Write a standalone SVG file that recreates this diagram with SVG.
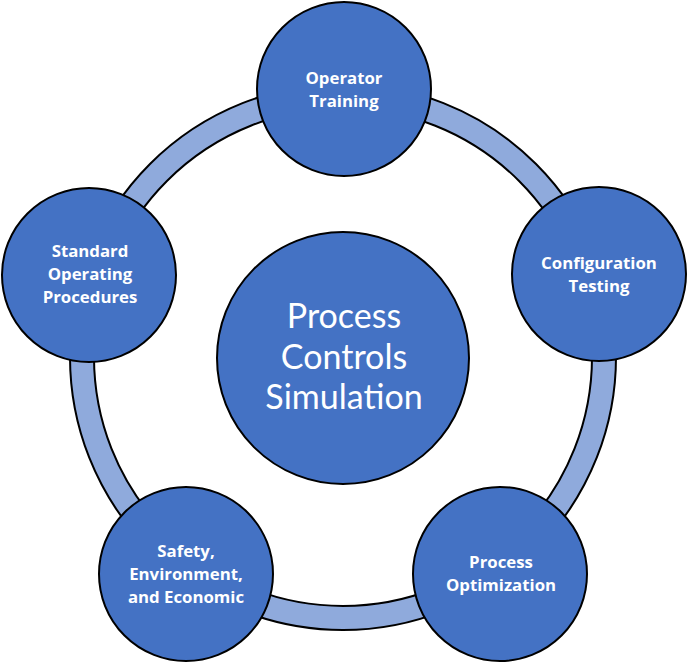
<svg xmlns="http://www.w3.org/2000/svg" width="688" height="664" viewBox="0 0 688 664">
<style>
.node{fill:#4472C4;stroke:#000;stroke-width:2}
.lbl{font-family:"Open Sans","Liberation Sans",sans-serif;font-weight:bold;font-size:16.8px;fill:#fff;text-anchor:middle}
.big{font-family:Lato,"Open Sans",sans-serif;font-size:34px;fill:#fff;text-anchor:middle}
</style>
<rect width="688" height="664" fill="#fff"/>
<g id="connectors">
<circle cx="343" cy="357" r="261" fill="none" stroke="#000" stroke-width="26"/>
<circle cx="343" cy="357" r="261" fill="none" stroke="#8FAADC" stroke-width="22"/>
</g>
<g id="center">
<circle class="node" cx="343" cy="358" r="126"/>
<text class="big"><tspan x="344" y="328">Process</tspan><tspan x="344" y="369">Controls</tspan><tspan x="344" y="409">Simulation</tspan></text>
</g>
<g id="operator-training">
<circle class="node" cx="344" cy="89" r="87"/>
<text class="lbl" x="344" y="84">Operator</text>
<text class="lbl" x="344" y="107">Training</text>
</g>
<g id="configuration-testing">
<circle class="node" cx="599" cy="274" r="87"/>
<text class="lbl" x="599" y="269">Configuration</text>
<text class="lbl" x="599" y="292">Testing</text>
</g>
<g id="process-optimization">
<circle class="node" cx="500" cy="574" r="87"/>
<text class="lbl" x="501" y="568">Process</text>
<text class="lbl" x="501" y="591">Optimization</text>
</g>
<g id="safety">
<circle class="node" cx="186" cy="574" r="87"/>
<text class="lbl" x="186" y="557">Safety,</text>
<text class="lbl" x="186" y="580">Environment,</text>
<text class="lbl" x="186" y="603">and Economic</text>
</g>
<g id="sop">
<circle class="node" cx="89" cy="275" r="87"/>
<text class="lbl" x="90" y="257">Standard</text>
<text class="lbl" x="90" y="280">Operating</text>
<text class="lbl" x="90" y="303">Procedures</text>
</g>
</svg>
